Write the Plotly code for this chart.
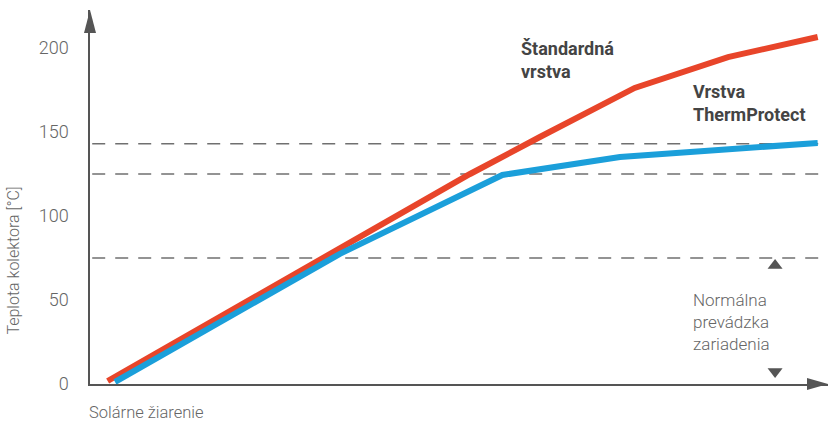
import plotly.graph_objects as go

# ---- data (x: solar irradiance, arbitrary units 0-100; y: collector temperature °C)
std_x = [2.4, 25.9, 51.7, 61.2, 74.1, 86.8, 99.0]
std_y = [1.8, 60.1, 125.0, 147.0, 176.2, 194.6, 206.5]
tp_x = [3.4, 34.0, 56.1, 72.1, 99.0]
tp_y = [1.2, 77.5, 124.4, 135.1, 143.5]
ref_levels = [143, 125, 75]
y_ticks = [0, 50, 100, 150, 200]
y_title = "Teplota kolektora [°C]"
x_title = "Solárne žiarenie"
label_std = "<b>Štandardná<br>vrstva</b>"
label_tp = "<b>Vrstva<br>ThermProtect</b>"
label_normal = "Normálna<br>prevádzka<br>zariadenia"

RED = "#E8452A"
BLUE = "#1B9FDA"
AXIS = "#555555"
TXT = "#666666"
FONT = "Roboto"

X_MAX = 100.4
Y_MAX = 222.6

fig = go.Figure()

# dashed reference levels
for lv in ref_levels:
    fig.add_shape(type="line", xref="x", yref="y", x0=0.3, x1=99.5, y0=lv, y1=lv,
                  line=dict(color="#707070", width=1.5, dash="13px,10px"), layer="below")

fig.add_trace(go.Scatter(x=std_x, y=std_y, mode="lines",
                         line=dict(color=RED, width=6), hoverinfo="skip"))
fig.add_trace(go.Scatter(x=tp_x, y=tp_y, mode="lines",
                         line=dict(color=BLUE, width=6), hoverinfo="skip"))

# normal operation range markers
fig.add_trace(go.Scatter(x=[93.2, 93.2], y=[70.5, 7.4], mode="markers",
                         marker=dict(symbol=["triangle-up", "triangle-down"], size=13,
                                     color=AXIS), hoverinfo="skip", cliponaxis=False))

# axis arrows
fig.add_shape(type="path", xref="paper", yref="paper", xsizemode="pixel", ysizemode="pixel",
              xanchor=0, yanchor=1, path="M -6,-23 L 0,0 L 6,-23 Z",
              fillcolor=AXIS, line=dict(width=0))
fig.add_shape(type="path", xref="paper", yref="paper", xsizemode="pixel", ysizemode="pixel",
              xanchor=1, yanchor=0, path="M -21,6 L 0,0 L -21,-6 Z",
              fillcolor=AXIS, line=dict(width=0))

# y tick marks (not at 0)
for v in y_ticks[1:]:
    fig.add_shape(type="line", xref="x", yref="y", xsizemode="pixel", xanchor=0,
                  x0=-8, x1=0, y0=v, y1=v, line=dict(color=AXIS, width=1.5))

fig.add_annotation(text=y_title, xref="paper", yref="paper", x=-0.103, y=0.33,
                   textangle=-90, showarrow=False,
                   font=dict(family=FONT, size=16, color=TXT, weight=300),
                   xanchor="center", yanchor="middle")
fig.add_annotation(text=x_title, xref="paper", yref="paper", x=-0.004, y=-0.045,
                   showarrow=False, font=dict(family=FONT, size=16.5, color=TXT, weight=300),
                   xanchor="left", yanchor="top")
fig.add_annotation(text=label_std, x=58.3, y=193, showarrow=False, align="left",
                   xanchor="left", yanchor="middle",
                   font=dict(family=FONT, size=18, color="#444444"))
fig.add_annotation(text=label_tp, x=81.8, y=167, showarrow=False, align="left",
                   xanchor="left", yanchor="middle",
                   font=dict(family=FONT, size=18, color="#444444"))
fig.add_annotation(text=label_normal, x=81.8, y=37, showarrow=False, align="left",
                   xanchor="left", yanchor="middle",
                   font=dict(family=FONT, size=17, color=TXT, weight=300))

fig.update_layout(
    width=830, height=421,
    margin=dict(l=90, r=2, t=10, b=37),
    paper_bgcolor="white", plot_bgcolor="white",
    showlegend=False,
    xaxis=dict(range=[0, X_MAX], showgrid=False, zeroline=False, showticklabels=False,
               ticks="", showline=True, linecolor=AXIS, linewidth=1.5, fixedrange=True),
    yaxis=dict(range=[0, Y_MAX], showgrid=False, zeroline=False, tickvals=y_ticks,
               ticks="", showline=True, linecolor=AXIS, linewidth=1.5,
               tickfont=dict(family=FONT, size=18, color=TXT, weight=300),
               ticklabelstandoff=16, fixedrange=True),
)

fig.write_html("out.html", config={"displayModeBar": False},
               post_script="document.body.style.margin='0';document.body.style.overflow='hidden';")
